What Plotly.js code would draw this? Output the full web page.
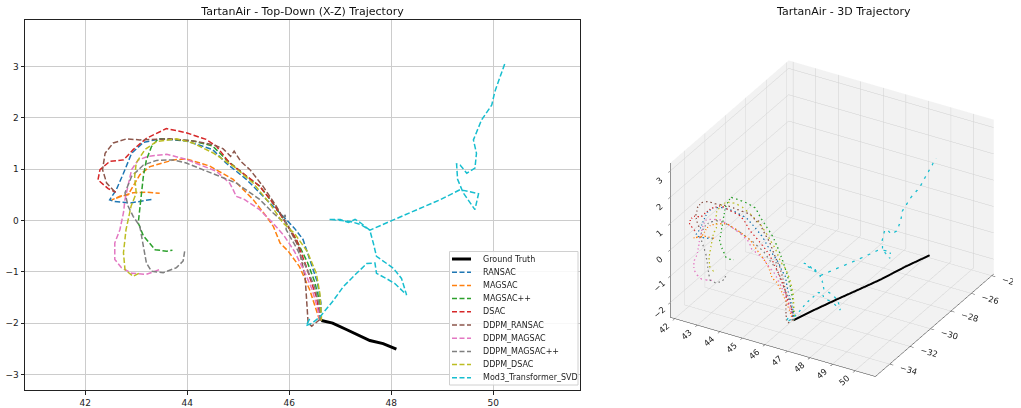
<!DOCTYPE html>
<html>
<head>
<meta charset="utf-8">
<script src="https://cdn.plot.ly/plotly-3.0.1.min.js"></script>
<style>html,body{margin:0;padding:0;background:#fff;}#chart{width:1021px;height:408px;}</style>
</head>
<body>
<div id="chart"></div>
<script>
// ---- data (X, Z for top-down; Y for 3D) ----
const gtX = [46.63,46.85,47.13,47.4,47.58,47.84,48.1];
const gtZ = [-1.95,-2.0,-2.13,-2.25,-2.34,-2.4,-2.51];
const gtY = [-34.0,-32.6,-30.6,-28.8,-27.5,-25.7,-23.9];

const ransacX = [46.62,46.62,46.55,46.42,46.27,46.1,45.94,45.55,45.16,44.76,44.5,43.98,43.46,43.14,42.91,42.75,42.61,42.48,42.58,42.88,43.3];
const ransacZ = [-1.95,-1.6,-1.2,-0.8,-0.37,-0.15,0.02,0.41,0.8,1.12,1.38,1.55,1.59,1.52,1.31,0.92,0.6,0.4,0.37,0.34,0.41];
const ransacY = [-34.0,-34.0,-34.1,-34.1,-34.0,-34.0,-33.9,-33.9,-33.8,-33.8,-33.9,-34.0,-34.1,-34.2,-34.2,-34.3,-34.3,-34.4,-34.4,-34.3,-34.2];

const magsacX = [46.6,46.57,46.4,46.2,45.98,45.82,45.69,45.55,45.29,44.9,44.44,43.98,43.73,43.27,43.07,42.94,42.84,42.71,42.52,42.68,42.94,43.2,43.46];
const magsacZ = [-1.95,-1.87,-1.35,-0.9,-0.6,-0.44,-0.12,0.08,0.41,0.8,1.06,1.2,1.18,1.05,0.89,0.66,0.5,0.47,0.4,0.47,0.54,0.55,0.53];
const magsacY = [-34.0,-34.0,-34.1,-34.2,-34.2,-34.3,-34.3,-34.3,-34.4,-34.4,-34.5,-34.5,-34.5,-34.6,-34.6,-34.6,-34.7,-34.7,-34.7,-34.7,-34.6,-34.6,-34.5];

const magsacppX = [46.62,46.6,46.5,46.35,46.15,45.94,45.68,45.42,45.16,44.76,44.5,44.11,43.7,43.43,43.3,43.2,43.14,43.1,43.07,43.04,43.14,43.37,43.6,43.71];
const magsacppZ = [-1.95,-1.6,-1.2,-0.8,-0.4,-0.05,0.34,0.67,0.86,1.19,1.45,1.55,1.58,1.59,1.44,1.18,0.86,0.47,0.28,-0.05,-0.3,-0.57,-0.6,-0.58];
const magsacppY = [-34.0,-33.9,-33.8,-33.7,-33.6,-33.5,-33.4,-33.3,-33.2,-33.1,-33.0,-33.0,-33.0,-33.0,-33.0,-33.1,-33.1,-33.2,-33.2,-33.3,-33.3,-33.4,-33.4,-33.4];

const dsacX = [46.62,46.53,46.46,46.33,46.14,45.94,45.68,45.42,45.09,44.83,44.57,44.37,43.98,43.59,43.2,42.94,42.75,42.48,42.29,42.25,42.45,42.6];
const dsacZ = [-1.95,-1.48,-1.28,-0.89,-0.37,-0.05,0.34,0.67,0.93,1.12,1.45,1.58,1.71,1.79,1.6,1.38,1.18,1.15,0.99,0.79,0.62,0.55];
const dsacY = [-34.0,-34.0,-34.1,-34.1,-34.2,-34.2,-34.2,-34.3,-34.3,-34.3,-34.3,-34.3,-34.4,-34.4,-34.4,-34.4,-34.5,-34.5,-34.5,-34.5,-34.5,-34.5];

const dRansacX = [46.6,46.44,46.37,46.34,46.31,46.18,45.98,45.75,45.49,45.23,45.05,44.92,44.85,44.7,44.5,44.11,43.65,43.07,42.81,42.55,42.39,42.34,42.42,42.58];
const dRansacZ = [-1.93,-2.06,-2.0,-1.61,-1.09,-0.51,-0.12,0.27,0.66,0.99,1.15,1.35,1.25,1.4,1.48,1.55,1.59,1.57,1.59,1.51,1.31,0.99,0.73,0.56];
const dRansacY = [-34.0,-34.1,-34.1,-34.1,-34.0,-34.0,-33.9,-33.9,-33.8,-33.8,-33.7,-33.7,-33.7,-33.7,-33.7,-33.8,-33.8,-33.9,-33.9,-34.0,-34.0,-34.1,-34.1,-34.2];

const dMagsacX = [46.6,46.55,46.45,46.3,46.1,45.9,45.68,45.42,45.12,44.96,44.9,44.83,44.57,43.98,43.6,43.24,43.04,42.91,42.78,42.75,42.68,42.58,42.58,42.71,42.91,43.2,43.45];
const dMagsacZ = [-1.95,-1.7,-1.35,-1.0,-0.6,-0.3,-0.05,0.21,0.41,0.47,0.6,0.73,0.96,1.19,1.29,1.25,1.18,0.99,0.41,0.15,-0.18,-0.44,-0.76,-0.92,-1.03,-1.05,-0.96];
const dMagsacY = [-34.0,-34.0,-34.1,-34.1,-34.2,-34.2,-34.3,-34.3,-34.4,-34.4,-34.4,-34.4,-34.5,-34.5,-34.5,-34.6,-34.6,-34.6,-34.7,-34.7,-34.7,-34.8,-34.8,-34.8,-34.8,-34.7,-34.7];

const dMagsacppX = [46.6,46.6,46.5,46.35,46.15,45.94,45.92,45.85,45.68,45.42,44.96,44.44,43.98,43.73,43.4,43.14,42.91,42.78,42.84,42.94,43.07,43.14,43.2,43.3,43.53,43.79,43.92,43.95];
const dMagsacppZ = [-1.95,-1.7,-1.3,-0.95,-0.55,-0.18,0.11,0.0,0.15,0.41,0.73,0.93,1.12,1.18,1.17,1.08,0.86,0.54,0.28,0.08,-0.11,-0.5,-0.83,-0.99,-1.02,-0.92,-0.79,-0.6];
const dMagsacppY = [-34.0,-34.0,-34.0,-34.1,-34.1,-34.1,-34.1,-34.2,-34.2,-34.2,-34.3,-34.3,-34.4,-34.4,-34.4,-34.5,-34.5,-34.6,-34.6,-34.6,-34.7,-34.7,-34.7,-34.8,-34.8,-34.8,-34.7,-34.7];

const dDsacX = [46.63,46.63,46.6,46.53,46.35,46.1,45.88,45.61,45.29,44.9,44.5,44.11,43.79,43.4,43.17,43.0,42.97,43.0,42.9,42.8,42.75,42.78,42.94,43.07];
const dDsacZ = [-1.95,-1.87,-1.42,-1.03,-0.6,-0.25,-0.05,0.34,0.73,1.06,1.32,1.51,1.59,1.54,1.38,1.12,0.86,0.53,0.28,-0.18,-0.63,-0.96,-1.09,-1.02];
const dDsacY = [-34.0,-33.9,-33.9,-33.8,-33.7,-33.6,-33.6,-33.5,-33.5,-33.4,-33.4,-33.4,-33.4,-33.4,-33.4,-33.5,-33.5,-33.5,-33.6,-33.6,-33.7,-33.7,-33.7,-33.7];

const mod3X = [46.4,46.33,46.45,46.6,46.85,47.06,47.3,47.52,47.68,47.71,47.9,48.07,48.3,48.2,48.04,47.85,47.71,47.65,47.58,47.39,47.29,47.16,47.0,46.78,46.95,47.2,47.4,47.58,48.04,48.5,48.95,49.35,49.71,49.64,49.41,49.3,49.28,49.35,49.48,49.64,49.67,49.61,49.77,49.97,50.03,50.23];
const mod3Z = [-1.92,-2.05,-2.0,-1.88,-1.58,-1.29,-1.05,-0.84,-0.83,-1.03,-1.13,-1.23,-1.45,-1.13,-0.93,-0.8,-0.7,-0.45,-0.19,-0.04,0.02,-0.04,0.02,0.02,0.0,-0.02,-0.08,-0.19,0.01,0.2,0.4,0.6,0.52,0.21,0.54,0.8,1.1,1.08,0.92,1.02,1.31,1.57,1.96,2.25,2.51,3.07];
const mod3Y = [-34.0,-34.1,-34.0,-33.9,-33.8,-33.7,-33.6,-33.5,-33.5,-33.4,-33.3,-33.2,-33.1,-33.1,-33.2,-33.3,-33.4,-33.4,-33.5,-33.5,-33.4,-33.4,-33.3,-33.3,-33.4,-33.5,-33.5,-33.5,-33.0,-32.5,-32.0,-31.6,-31.3,-31.2,-31.4,-31.2,-30.9,-30.8,-30.7,-30.5,-30.2,-29.9,-29.4,-29.0,-28.6,-28.0];

const seriesNames = ["RANSAC","MAGSAC","MAGSAC++","DSAC","DDPM_RANSAC","DDPM_MAGSAC","DDPM_MAGSAC++","DDPM_DSAC","Mod3_Transformer_SVD"];
const seriesColors = ["#1f77b4","#ff7f0e","#2ca02c","#d62728","#8c564b","#e377c2","#7f7f7f","#bcbd22","#17becf"];
const seriesX = [ransacX,magsacX,magsacppX,dsacX,dRansacX,dMagsacX,dMagsacppX,dDsacX,mod3X];
const seriesZ = [ransacZ,magsacZ,magsacppZ,dsacZ,dRansacZ,dMagsacZ,dMagsacppZ,dDsacZ,mod3Z];
const seriesY = [ransacY,magsacY,magsacppY,dsacY,dRansacY,dMagsacY,dMagsacppY,dDsacY,mod3Y];
const gtName = "Ground Truth";

const titleLeft = "TartanAir - Top-Down (X-Z) Trajectory";
const titleRight = "TartanAir - 3D Trajectory";

// ---- traces ----
const FONT = "DejaVu Sans, sans-serif";
const DASH = "5.5px,2.4px";
const traces = [];
traces.push({type:"scatter", mode:"lines", name:gtName, x:gtX, y:gtZ,
  line:{color:"black", width:3}, xaxis:"x", yaxis:"y", showlegend:false});
for (let i=0;i<seriesNames.length;i++){
  traces.push({type:"scatter", mode:"lines", name:seriesNames[i], x:seriesX[i], y:seriesZ[i],
    line:{color:seriesColors[i], width:1.5, dash:DASH}, xaxis:"x", yaxis:"y", showlegend:false});
}
traces.push({type:"scatter3d", mode:"lines", name:gtName, showlegend:false,
  x:gtX, y:gtY, z:gtZ, line:{color:"black", width:4}, scene:"scene"});
for (let i=0;i<seriesNames.length;i++){
  traces.push({type:"scatter3d", mode:"lines", name:seriesNames[i], showlegend:false,
    x:seriesX[i], y:seriesY[i], z:seriesZ[i],
    line:{color:seriesColors[i], width:2.5, dash:"dash"}, scene:"scene"});
}

// ---- legend drawn as layout shapes + annotations (matplotlib-style compact legend) ----
const W = 1021, H = 408;
const px = v => v / W, py = v => 1 - v / H;
const legBox = {x0:449.5, x1:578, y0:251.5, y1:385};
const legRow0 = 259, legStep = 13.2, legLineX0 = 452, legLineX1 = 471, legTextX = 480.5;
const legNames = [gtName].concat(seriesNames);
const legColors = ["black"].concat(seriesColors);
const shapes = [{type:"rect", xref:"paper", yref:"paper",
  x0:px(legBox.x0), x1:px(legBox.x1), y0:py(legBox.y1), y1:py(legBox.y0),
  fillcolor:"rgba(255,255,255,0.85)", line:{color:"#d0d0d0", width:1}, layer:"above"}];
const annotations = [];
legNames.forEach((n, i) => {
  const yy = legRow0 + i * legStep;
  shapes.push({type:"line", xref:"paper", yref:"paper", x0:px(legLineX0), x1:px(legLineX1),
    y0:py(yy), y1:py(yy), layer:"above",
    line: i === 0 ? {color:legColors[i], width:3} : {color:legColors[i], width:1.5, dash:"5px,2.5px"}});
  annotations.push({text:n, xref:"paper", yref:"paper", x:px(legTextX), y:py(yy),
    xanchor:"left", yanchor:"middle", showarrow:false,
    font:{family:FONT, size:8, color:"#222"}});
});
annotations.push({text:titleRight, xref:"paper", yref:"paper", x:0.8257, y:0.972,
  xanchor:"center", yanchor:"middle", showarrow:false,
  font:{family:FONT, size:11, color:"#111"}});

const ax3 = (range, dtick) => ({
  range: range, dtick: dtick, autorange:false,
  showbackground:true, backgroundcolor:"rgb(242,242,242)",
  gridcolor:"#d0d0d0", gridwidth:1, zeroline:false,
  showline:true, linecolor:"#333", linewidth:1,
  ticks:"outside", ticklen:4, tickcolor:"#333",
  tickfont:{family:FONT, size:10, color:"#222"},
  showspikes:false, title:{text:""}
});

const layout = {
  width:W, height:H,
  margin:{l:0,r:0,t:0,b:0},
  paper_bgcolor:"white", plot_bgcolor:"white",
  font:{family:FONT, color:"#222"},
  showlegend:false,
  title:{text:titleLeft, x:0.2963, xanchor:"center", y:0.972, yanchor:"middle",
         font:{family:FONT, size:11, color:"#111"}},
  xaxis:{domain:[0.02449,0.5681], range:[40.82,51.7], autorange:false,
    dtick:2, tick0:42, showgrid:true, gridcolor:"#cccccc", gridwidth:1,
    zeroline:false, showline:true, mirror:true, linecolor:"#222", linewidth:1,
    ticks:"outside", ticklen:3.5, tickcolor:"#222",
    tickfont:{family:FONT, size:9, color:"#222"}},
  yaxis:{domain:[0.0434,0.9498], range:[-3.31,3.897], autorange:false,
    dtick:1, showgrid:true, gridcolor:"#cccccc", gridwidth:1,
    zeroline:false, showline:true, mirror:true, linecolor:"#222", linewidth:1,
    ticks:"outside", ticklen:3.5, tickcolor:"#222",
    tickfont:{family:FONT, size:9, color:"#222"}},
  scene:{
    domain:{x:[0.638,0.993], y:[0.0,0.93]},
    xaxis:ax3([41.8,50.9],1),
    yaxis:ax3([-35.4,-23.8],2),
    zaxis:ax3([-2.56,3.3],1),
    aspectmode:"manual", aspectratio:{x:1.25,y:1.25,z:0.94},
    camera:{eye:{x:0.8,y:-1.386,z:0.924}, center:{x:0,y:0,z:0}, up:{x:0,y:0,z:1},
            projection:{type:"orthographic"}}
  },
  shapes:shapes,
  annotations:annotations
};

Plotly.newPlot("chart", traces, layout, {displayModeBar:false});
</script>
</body>
</html>
